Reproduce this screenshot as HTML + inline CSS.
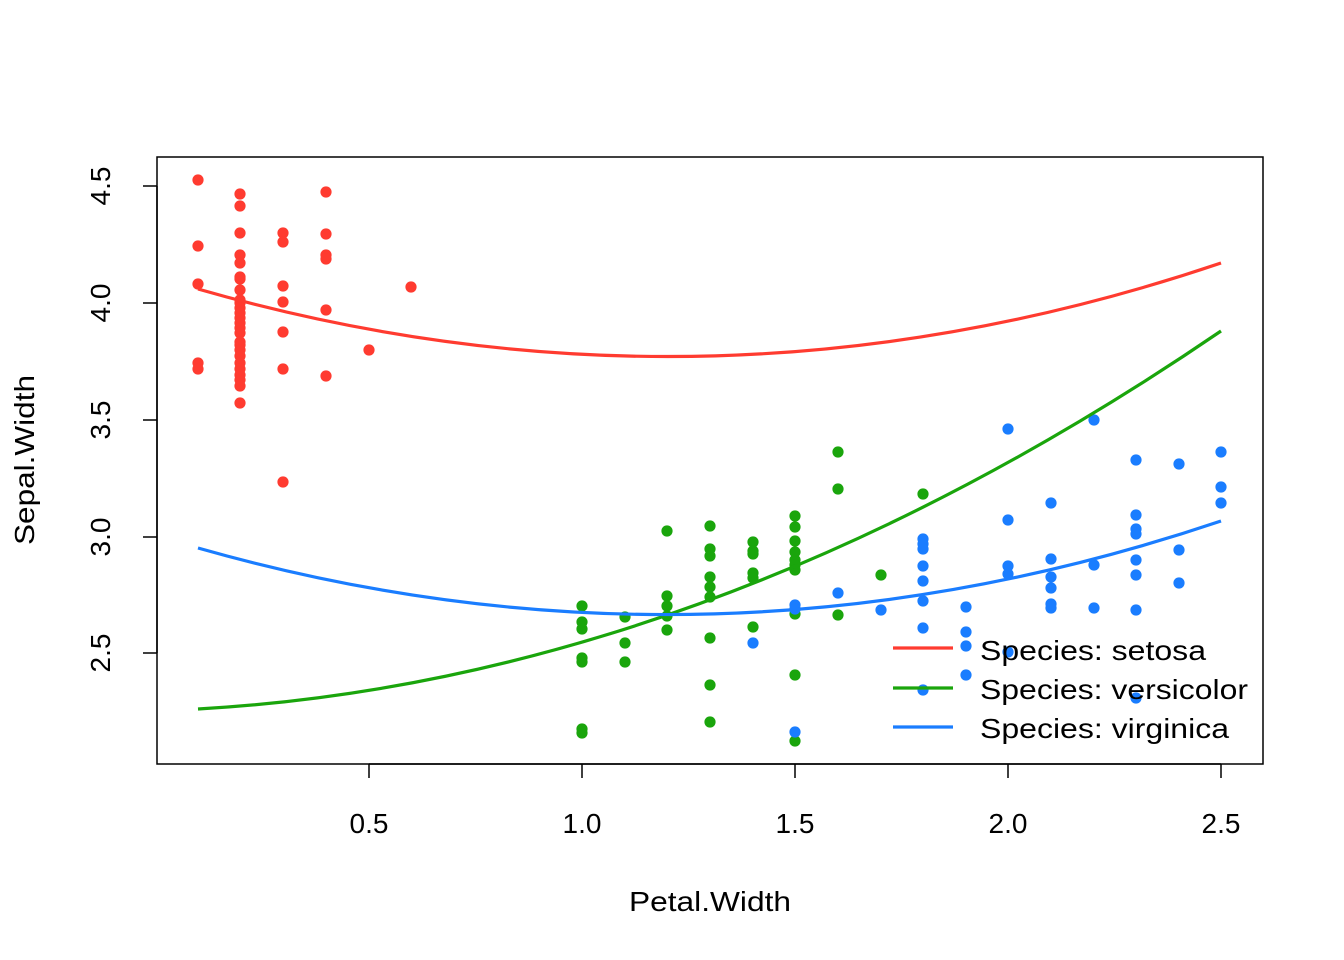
<!DOCTYPE html>
<html><head><meta charset="utf-8"><style>
html,body{margin:0;padding:0;background:#fff}
svg{display:block}
text{font-family:"Liberation Sans",Arial,sans-serif;font-size:28px;fill:#000}
</style></head><body>
<svg id="s" width="1344" height="960" xmlns="http://www.w3.org/2000/svg">
<rect x="157" y="157" width="1106" height="607" fill="none" stroke="#000" stroke-width="1.5"/>
<g stroke="#000" stroke-width="1.5">
<line x1="369" y1="764" x2="1221" y2="764"/>
<line x1="369" y1="764" x2="369" y2="778"/><line x1="582" y1="764" x2="582" y2="778"/><line x1="795" y1="764" x2="795" y2="778"/><line x1="1008" y1="764" x2="1008" y2="778"/><line x1="1221" y1="764" x2="1221" y2="778"/>
<line x1="157" y1="186" x2="157" y2="653"/>
<line x1="143" y1="186" x2="157" y2="186"/><line x1="143" y1="303" x2="157" y2="303"/><line x1="143" y1="420" x2="157" y2="420"/><line x1="143" y1="537" x2="157" y2="537"/><line x1="143" y1="653" x2="157" y2="653"/>
</g>
<g text-anchor="middle">
<text x="369" y="833">0.5</text><text x="582" y="833">1.0</text><text x="795" y="833">1.5</text><text x="1008" y="833">2.0</text><text x="1221" y="833">2.5</text>
<text transform="translate(110,186) rotate(-90)">4.5</text>
<text transform="translate(110,303) rotate(-90)">4.0</text>
<text transform="translate(110,420) rotate(-90)">3.5</text>
<text transform="translate(110,537) rotate(-90)">3.0</text>
<text transform="translate(110,653) rotate(-90)">2.5</text>
<text x="710" y="911" textLength="162" lengthAdjust="spacingAndGlyphs">Petal.Width</text>
<text transform="translate(34,460) rotate(-90)" textLength="170" lengthAdjust="spacingAndGlyphs">Sepal.Width</text>
</g>
<g id="pts"></g>
<g fill="none" stroke-width="3.2">
<path d="M198,289 Q709.5,436 1221,263" stroke="#FF3B30"/>
<path d="M198,709 Q709.5,680 1221,331" stroke="#1AA50C"/>
<path d="M198,548 Q709.5,693.5 1221,521" stroke="#1A7DFF"/>
</g>
<g stroke-width="3.2">
<line x1="893" y1="648" x2="953" y2="648" stroke="#FF3B30"/>
<line x1="893" y1="688" x2="953" y2="688" stroke="#1AA50C"/>
<line x1="893" y1="727" x2="953" y2="727" stroke="#1A7DFF"/>
</g>
<text x="980" y="660" textLength="226" lengthAdjust="spacingAndGlyphs">Species: setosa</text>
<text x="980" y="699" textLength="268" lengthAdjust="spacingAndGlyphs">Species: versicolor</text>
<text x="980" y="738" textLength="249" lengthAdjust="spacingAndGlyphs">Species: virginica</text>
</svg>
<script>
var D={
"#FF3B30":{198:[180,246,284,363,369],240:[194,206,233,255,263,277,279,290,300,303,308,313,318,323,328,333,342,345,350,356,363,369,375,380,386,403],283:[233,242,286,302,332,369,482],326:[192,234,255,259,310,376],369:[350],411:[287]},
"#1AA50C":{582:[606,622,629,658,662,729,733],625:[617,643,662],667:[531,596,606,616,630],710:[526,549,556,577,587,597,638,685,722],753:[542,551,554,573,578,627],795:[516,527,541,552,560,565,570,614,675,741],838:[452,489,615],881:[575],923:[494]},
"#1A7DFF":{753:[643],795:[605,609,732],838:[593],881:[610],923:[539,544,549,566,581,601,628,690],966:[607,632,646,675],1008:[429,520,566,574,652],1051:[503,559,577,588,604,608],1094:[420,565,608],1136:[460,515,529,534,560,575,610,698],1179:[464,550,583],1221:[452,487,503]}};
var g=document.getElementById("pts"),h="";
for(var c in D)for(var x in D[c])D[c][x].forEach(function(y){h+='<circle cx="'+x+'" cy="'+y+'" r="5.6" fill="'+c+'"/>';});
g.innerHTML=h;
</script>
</body></html>
